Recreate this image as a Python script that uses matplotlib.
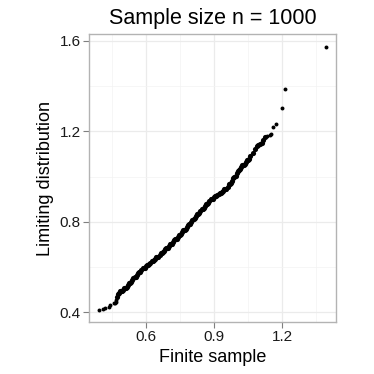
import matplotlib
matplotlib.use('Agg')
import matplotlib.pyplot as plt
from matplotlib.ticker import MultipleLocator

plt.rcParams['font.family'] = ['Liberation Sans', 'DejaVu Sans']

# sorted quantiles (finite sample vs limiting distribution)
low_x = [0.393, 0.409, 0.419, 0.438, 0.442, 0.461, 0.463, 0.466, 0.468]
low_y = [0.409, 0.416, 0.420, 0.425, 0.431, 0.440, 0.443, 0.447, 0.455]

mid_x = [0.471, 0.475, 0.480, 0.490, 0.500, 0.510, 0.520, 0.530, 0.540, 0.550,
         0.560, 0.570, 0.580, 0.590, 0.600, 0.610, 0.620, 0.630, 0.640, 0.650,
         0.660, 0.670, 0.680, 0.690, 0.700, 0.710, 0.720, 0.730, 0.740, 0.750,
         0.760, 0.770, 0.780, 0.790, 0.800, 0.810, 0.820, 0.830, 0.840, 0.850,
         0.860, 0.870, 0.880, 0.890, 0.900, 0.910, 0.920, 0.930, 0.940, 0.950,
         0.960, 0.970, 0.980, 0.990, 1.000, 1.010, 1.020, 1.030, 1.040, 1.050,
         1.060, 1.070, 1.080, 1.088, 1.095, 1.103, 1.110, 1.117, 1.124]
mid_y = [0.469, 0.479, 0.486, 0.492, 0.499, 0.509, 0.519, 0.531, 0.543, 0.556,
         0.566, 0.576, 0.586, 0.595, 0.603, 0.611, 0.619, 0.627, 0.636, 0.645,
         0.653, 0.662, 0.673, 0.683, 0.692, 0.702, 0.712, 0.722, 0.732, 0.743,
         0.753, 0.764, 0.777, 0.789, 0.801, 0.812, 0.824, 0.835, 0.846, 0.858,
         0.869, 0.880, 0.890, 0.901, 0.909, 0.916, 0.923, 0.929, 0.936, 0.943,
         0.956, 0.968, 0.981, 0.998, 1.015, 1.028, 1.041, 1.052, 1.063, 1.073,
         1.089, 1.106, 1.121, 1.133, 1.138, 1.143, 1.148, 1.163, 1.177]

fill_x = [0.485, 0.495, 0.505, 0.515, 0.525, 0.535, 0.545, 0.555, 0.565, 0.575,
          0.585, 0.595, 0.605, 0.615, 0.625, 0.635, 0.645, 0.655, 0.665, 0.675,
          0.685, 0.695, 0.705, 0.715, 0.725, 0.735, 0.745, 0.755, 0.765, 0.775,
          0.785, 0.795, 0.805, 0.815, 0.825, 0.835, 0.845, 0.855, 0.865, 0.875,
          0.885, 0.895, 0.905, 0.915, 0.925, 0.935, 0.945, 0.955, 0.965, 0.975,
          0.985, 0.995, 1.005, 1.015, 1.025, 1.035, 1.045, 1.055]
fill_y = [0.492, 0.493, 0.507, 0.511, 0.528, 0.534, 0.553, 0.558, 0.574, 0.578,
          0.594, 0.596, 0.610, 0.612, 0.626, 0.629, 0.644, 0.646, 0.661, 0.665,
          0.681, 0.685, 0.700, 0.704, 0.720, 0.724, 0.741, 0.745, 0.762, 0.768,
          0.786, 0.792, 0.810, 0.815, 0.833, 0.838, 0.855, 0.861, 0.878, 0.882,
          0.899, 0.902, 0.916, 0.917, 0.929, 0.930, 0.943, 0.947, 0.965, 0.972,
          0.993, 1.004, 1.025, 1.032, 1.050, 1.055, 1.071, 1.078]

high_x = [1.135, 1.146, 1.152, 1.161, 1.173, 1.200, 1.214, 1.392]
high_y = [1.180, 1.185, 1.186, 1.219, 1.233, 1.301, 1.385, 1.571]

fig = plt.figure(figsize=(3.74, 3.74), dpi=100)
ax = fig.add_axes([0.238, 0.139, 0.660, 0.770])

# dense middle drawn slightly heavier, where many points overlap
ax.scatter(mid_x + fill_x, mid_y + fill_y, s=14, color='black', linewidths=0, zorder=3)
ax.scatter(low_x + high_x, low_y + high_y, s=8, color='black', linewidths=0, zorder=3)

ax.set_xlim(0.349, 1.437)
ax.set_ylim(0.357, 1.630)
ax.xaxis.set_minor_locator(MultipleLocator(0.15))
ax.yaxis.set_minor_locator(MultipleLocator(0.2))
ax.set_xticks([0.6, 0.9, 1.2])
ax.set_yticks([0.4, 0.8, 1.2, 1.6])
ax.set_xticklabels(['0.6', '0.9', '1.2'])
ax.set_yticklabels(['0.4', '0.8', '1.2', '1.6'])

ax.grid(which='major', color='#EBEBEB', linewidth=0.9)
ax.grid(which='minor', color='#F3F3F3', linewidth=0.5)
ax.set_axisbelow(True)
for sp in ax.spines.values():
    sp.set_color('#B3B3B3')
    sp.set_linewidth(1.0)
ax.tick_params(which='major', length=4, width=0.8, color='#7F7F7F',
               labelsize=11, labelcolor='#1A1A1A', pad=2)
ax.tick_params(which='minor', length=0)

ax.set_xlabel('Finite sample', fontsize=13, labelpad=3)
ax.set_ylabel('Limiting distribution', fontsize=13, labelpad=4)
ax.set_title('Sample size n = 1000', fontsize=15.5, pad=7)

fig.savefig('out.png', dpi=100)
